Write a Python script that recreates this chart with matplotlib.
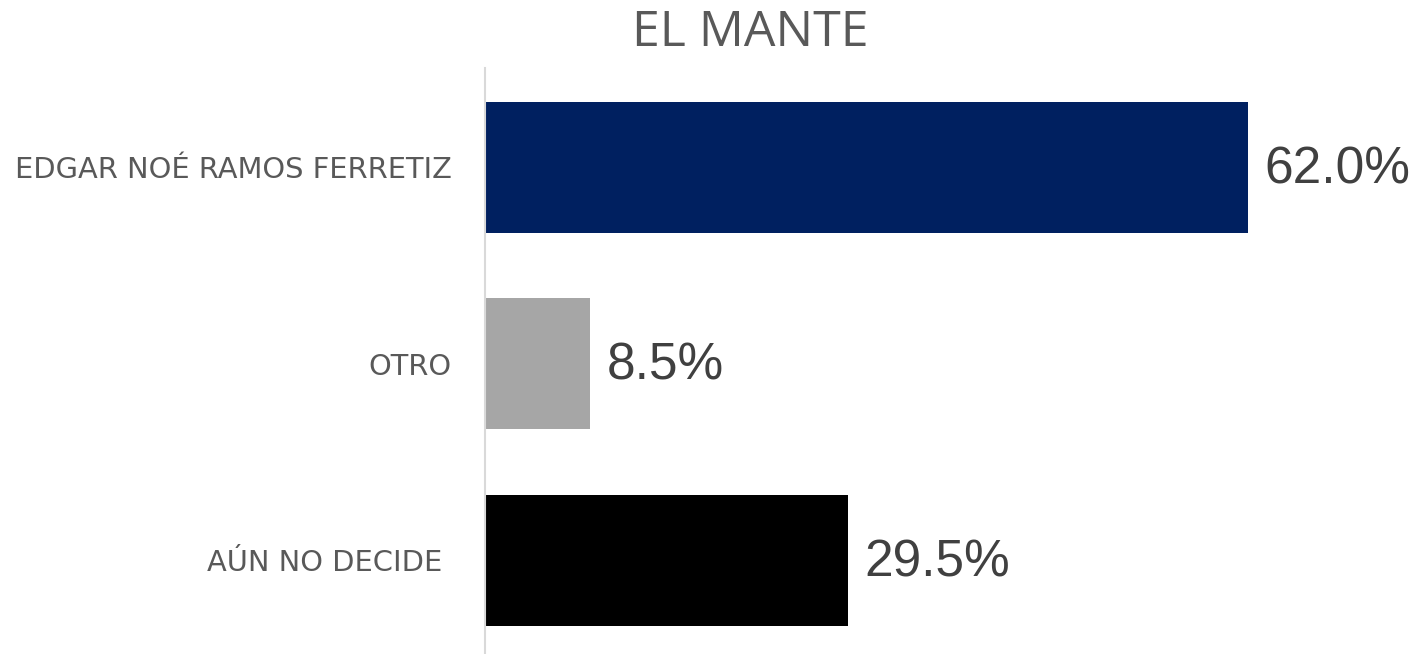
import matplotlib.pyplot as plt

categories = ["EDGAR NOÉ RAMOS FERRETIZ", "OTRO", "AÚN NO DECIDE "]
values = [62.0, 8.5, 29.5]
colors = ["#002060", "#a6a6a6", "#000000"]
title = "EL MANTE"

fig = plt.figure(figsize=(14.2, 6.54), dpi=100)
ax = fig.add_axes([485 / 1420, 0, 925 / 1420, 586 / 654])

pos = list(range(len(categories)))
bars = ax.barh(pos, values, height=0.667, color=colors)

ax.set_xlim(0, 925 / 12.306)
ax.set_ylim(2.476, -0.506)

for b, v in zip(bars, values):
    ax.annotate(f"{v:.1f}%", (b.get_width(), b.get_y() + b.get_height() / 2),
                xytext=(12, -1.5), textcoords="offset points", va="center", ha="left",
                fontsize=37, color="#404040", family="Liberation Sans")

ax.set_yticks(pos)
ax.set_yticklabels(categories, fontsize=20.8, color="#595959", family="DejaVu Sans")
ax.tick_params(axis="y", length=0, pad=24)
ax.set_xticks([])

for s in ["top", "right", "bottom"]:
    ax.spines[s].set_visible(False)
ax.spines["left"].set_color("#d9d9d9")
ax.spines["left"].set_linewidth(1.5)

fig.text(750 / 1420, 1 - 33 / 654, title, ha="center", va="center",
         fontsize=36, color="#595959", family="Open Sans")

fig.savefig("out.png", dpi=100)
